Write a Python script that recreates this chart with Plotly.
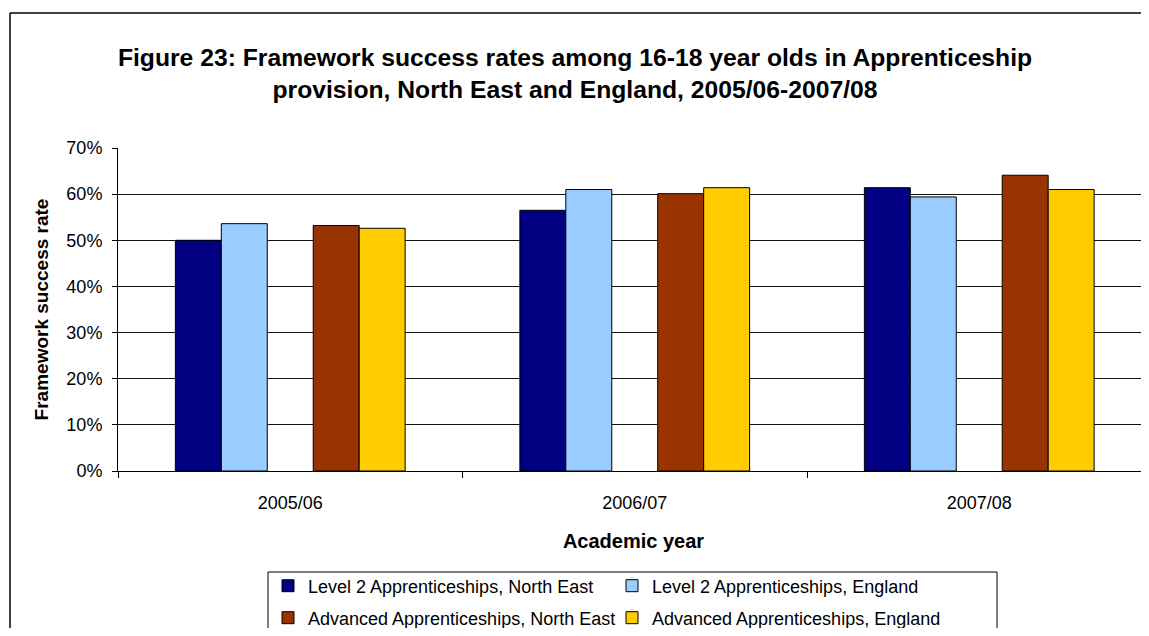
import plotly.graph_objects as go

years = ["2005/06", "2006/07", "2007/08"]
l2_ne = [0.500, 0.565, 0.614]
l2_eng = [0.536, 0.610, 0.594]
adv_ne = [0.532, 0.601, 0.641]
adv_eng = [0.526, 0.614, 0.610]

names = ["Level 2 Apprenticeships, North East", "Level 2 Apprenticeships, England",
         "Advanced Apprenticeships, North East", "Advanced Apprenticeships, England"]
colors = ["#000080", "#99CCFF", "#993300", "#FFCC00"]
legend_rows = ["legend", "legend", "legend2", "legend2"]

# page is drawn with an 8px body margin, so the figure is sized to fit the window
W, H = 1141, 620
L, R, T, B = 110, 0, 140, 157
FONT = "Liberation Sans, Arial, sans-serif"
pw = W - L - R
ph = H - T - B

def px_x(x):
    return (x - L) / pw

def px_y(y):
    return (H - B - y) / ph

fig = go.Figure()
series = [l2_ne, l2_eng, None, adv_ne, adv_eng]
ci = 0
for s in series:
    if s is None:
        fig.add_trace(go.Bar(x=years, y=[None] * len(years), showlegend=False,
                             hoverinfo="skip", marker=dict(color="rgba(0,0,0,0)")))
        continue
    fig.add_trace(go.Bar(x=years, y=s, name=names[ci], legend=legend_rows[ci],
                         marker=dict(color=colors[ci], line=dict(color="black", width=1))))
    ci += 1

# outer chart border: left and top edges (the rest lies outside the window)
border = dict(type="line", xref="paper", yref="paper", layer="below",
              line=dict(color="black", width=1.5))
fig.add_shape(x0=px_x(2), x1=px_x(2), y0=px_y(H), y1=px_y(5), **border)
fig.add_shape(x0=px_x(2), x1=px_x(W), y0=px_y(5), y1=px_y(5), **border)
# legend border: top, left and right edges
lb = dict(type="line", xref="paper", yref="paper", layer="below",
          line=dict(color="black", width=1))
fig.add_shape(x0=px_x(260), x1=px_x(989), y0=px_y(564), y1=px_y(564), **lb)
fig.add_shape(x0=px_x(260), x1=px_x(260), y0=px_y(H), y1=px_y(564), **lb)
fig.add_shape(x0=px_x(989), x1=px_x(989), y0=px_y(H), y1=px_y(564), **lb)

leg_common = dict(orientation="h", xanchor="left", yanchor="middle",
                  xref="container", yref="container",
                  bgcolor="rgba(0,0,0,0)", borderwidth=0,
                  font=dict(size=18), entrywidth=299, itemwidth=30)

fig.update_layout(
    width=W, height=H,
    margin=dict(l=L, r=R, t=T, b=B),
    paper_bgcolor="white", plot_bgcolor="white",
    barmode="group", bargap=0.333, bargroupgap=0,
    font=dict(family=FONT, color="black", size=18),
    title=dict(text="<b>Figure 23: Framework success rates among 16-18 year olds in Apprenticeship<br>provision, North East and England, 2005/06-2007/08</b>",
               x=567 / W, xanchor="center", xref="container",
               y=1 - 58 / H, yanchor="middle", yref="container",
               font=dict(family=FONT, size=24.7, color="black")),
    xaxis=dict(type="category", range=[-0.5, -0.5 + pw / 344.5],
               showline=True, linecolor="black", linewidth=1,
               ticks="outside", tickson="boundaries", ticklen=6, tickcolor="black",
               showgrid=False, ticklabelstandoff=15,
               tickfont=dict(size=18),
               title=dict(text="<b>Academic year</b>", font=dict(size=20), standoff=22)),
    yaxis=dict(range=[0, 0.7], dtick=0.1, tickformat=".0%",
               showline=True, linecolor="black", linewidth=1,
               ticks="outside", ticklen=5, tickcolor="black",
               showgrid=True, gridcolor="#111111", gridwidth=1,
               zeroline=False, ticklabelstandoff=6,
               tickfont=dict(size=18),
               title=dict(text="<b>Framework success rate</b>", font=dict(size=19), standoff=12)),
    legend=dict(x=260 / W, y=1 - 578 / H, **leg_common),
    legend2=dict(x=260 / W, y=1 - 610 / H, **leg_common),
)

fig.write_html("out.html")
